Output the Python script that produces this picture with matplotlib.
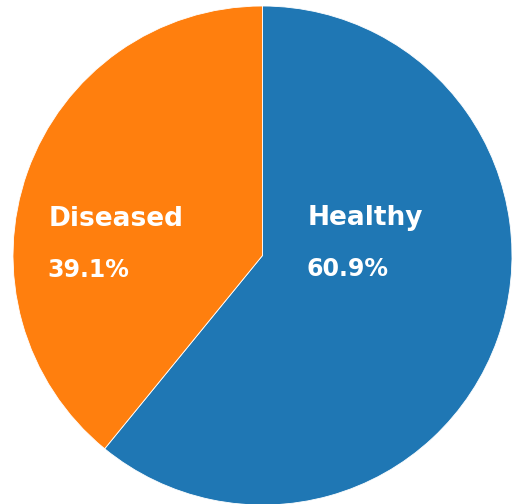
import matplotlib
matplotlib.use("Agg")
import matplotlib.pyplot as plt

labels = ["Healthy", "Diseased"]
shares = [60.9, 39.1]
colors = ["#1f77b4", "#ff7f0e"]

W, H, DPI = 521, 504, 100
fig = plt.figure(figsize=(W / DPI, H / DPI), dpi=DPI)

cx, cy, r = 262.5, 255.5, 249.5
ax = fig.add_axes([(cx - r) / W, (H - cy - r) / H, 2 * r / W, 2 * r / H])
ax.pie(shares, colors=colors, startangle=90, counterclock=False,
       radius=1, wedgeprops=dict(edgecolor="white", linewidth=0.6))
ax.set_xlim(-1, 1)
ax.set_ylim(-1, 1)
ax.set_aspect("equal")
ax.axis("off")

# label anchors (left edge x, name y, percent y) in axes data units
anchors = {"Healthy": (0.182, 0.149, -0.056), "Diseased": (-0.857, 0.145, -0.060)}
for name, val in zip(labels, shares):
    x, yn, yp = anchors[name]
    ax.text(x, yn, name, color="white", fontsize=19, fontweight="bold",
            family="DejaVu Sans", ha="left", va="center")
    ax.text(x - 0.004, yp, f"{val:.1f}%", color="white", fontsize=17,
            fontweight="bold", family="DejaVu Sans", ha="left", va="center")

fig.savefig("out.png", dpi=DPI)
